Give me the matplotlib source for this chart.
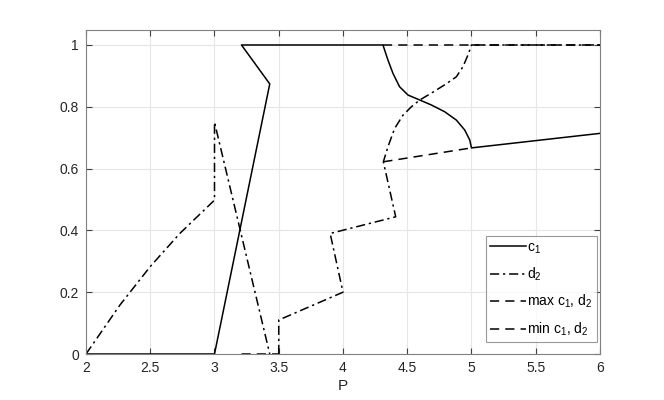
import matplotlib
matplotlib.use("Agg")
import matplotlib.pyplot as plt
import numpy as np

plt.rcParams['font.family'] = ['Liberation Sans', 'DejaVu Sans']
plt.rcParams['mathtext.fontset'] = 'custom'
plt.rcParams['mathtext.rm'] = 'Liberation Sans'
plt.rcParams['mathtext.it'] = 'Liberation Sans'

nan = np.nan

# c1 (solid)
c1_p = [2, 3, 3.43, 3.21, 4.311, 4.350, 4.389, 4.440, 4.506, 4.597, 4.687, 4.791,
        4.882, 4.947, 4.986, 5.0, 6.0]
c1_v = [0, 0, 0.874, 1.0, 1.0, 0.951, 0.908, 0.865, 0.838, 0.822, 0.806, 0.784,
        0.757, 0.725, 0.693, 0.667, 0.714]

# d2 (dash-dot)
d2_p = [2, 2.265, 2.5, 2.73, 3.0, 3.0, 3.43, nan, 3.5, 3.5, 4.0, 3.9, 4.41, 4.314,
        4.350, 4.402, 4.467, 4.532, 4.597, 4.687, 4.791, 4.882, 4.934, 4.973, 5.0, 6.0]
d2_v = [0, 0.159, 0.283, 0.39, 0.498, 0.75, 0.0, nan, 0.0, 0.11, 0.2, 0.39, 0.444, 0.622,
        0.671, 0.730, 0.773, 0.800, 0.822, 0.844, 0.871, 0.897, 0.930, 0.968, 1.0, 1.0]

# max c1, d2 (dashed)
max_p = [4.311, 6.0]
max_v = [1.0, 1.0]

# min c1, d2 (dashed)
min_p = [3.21, 3.5, nan, 4.314, 5.0]
min_v = [0.0, 0.0, nan, 0.622, 0.667]

fig = plt.figure(figsize=(6.64, 4.0), dpi=100)
ax = fig.add_axes([86 / 664, 46 / 400, 514 / 664, 324 / 400])

lw = 1.1
ax.plot(c1_p, c1_v, color='k', lw=lw, linestyle='-', label='c$_1$')
ax.plot(d2_p, d2_v, color='k', lw=lw, linestyle=(0, (6, 2.5, 1.5, 2.5)), label='d$_2$')
ax.plot(max_p, max_v, color='k', lw=lw, linestyle=(0, (6, 4)), label='max c$_1$, d$_2$')
ax.plot(min_p, min_v, color='k', lw=lw, linestyle=(0, (6, 4)), label='min c$_1$, d$_2$')

ax.set_xlim(2, 6)
ax.set_ylim(0, 1.0485)
ax.set_xticks([2, 2.5, 3, 3.5, 4, 4.5, 5, 5.5, 6])
ax.set_xticklabels(['2', '2.5', '3', '3.5', '4', '4.5', '5', '5.5', '6'])
ax.set_yticks([0, 0.2, 0.4, 0.6, 0.8, 1])
ax.set_yticklabels(['0', '0.2', '0.4', '0.6', '0.8', '1'])
ax.grid(True, color='#e6e6e6', lw=0.8)
ax.set_axisbelow(True)

axis_col = '#262626'
for s in ax.spines.values():
    s.set_color('#808080')
    s.set_linewidth(0.8)
ax.tick_params(direction='in', length=4, width=0.8, color='#404040',
               top=True, right=True, labelsize=10, labelcolor=axis_col, pad=5)
ax.set_xlabel('P', fontsize=11, color=axis_col, labelpad=3)

leg = ax.legend(loc='lower right', bbox_to_anchor=(0.994, 0.037), fontsize=10,
                frameon=True, fancybox=False, edgecolor='#808080',
                handlelength=2.6, handletextpad=0.1, borderpad=0.3,
                labelspacing=0.72, borderaxespad=0)
leg.get_frame().set_linewidth(0.8)

fig.savefig('out.png', dpi=100)
